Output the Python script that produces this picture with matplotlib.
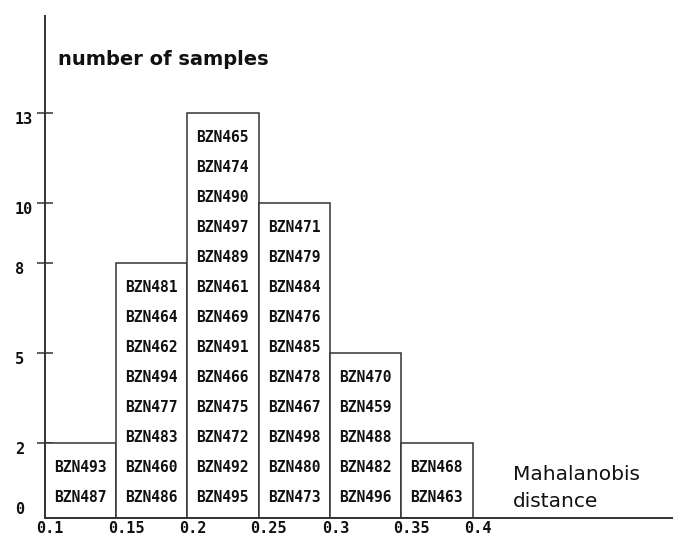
import matplotlib
matplotlib.use("Agg")
import matplotlib.pyplot as plt
from matplotlib.transforms import offset_copy

# Klassengrenzen der Mahalanobis-Distanz und Proben je Klasse (von unten nach oben)
bin_edges = [0.1, 0.15, 0.2, 0.25, 0.3, 0.35, 0.4]
edge_labels = ["0.1", "0.15", "0.2", "0.25", "0.3", "0.35", "0.4"]
samples = [
    ["BZN487", "BZN493"],
    ["BZN486", "BZN460", "BZN483", "BZN477", "BZN494", "BZN462", "BZN464", "BZN481"],
    ["BZN495", "BZN492", "BZN472", "BZN475", "BZN466", "BZN491", "BZN469", "BZN461",
     "BZN489", "BZN497", "BZN490", "BZN474", "BZN465"],
    ["BZN473", "BZN480", "BZN498", "BZN467", "BZN478", "BZN485", "BZN476", "BZN484",
     "BZN479", "BZN471"],
    ["BZN496", "BZN482", "BZN488", "BZN459", "BZN470"],
    ["BZN463", "BZN468"],
]
counts = [len(s) for s in samples]
ytick_values = [0, 2, 5, 8, 10, 13]

pad = 0.5  # Luft über der obersten Beschriftung
line_col = "#333333"
mono = "DejaVu Sans Mono"

fig = plt.figure(figsize=(6.73, 5.36), dpi=100)
ax = fig.add_axes([44.5 / 673, 18 / 536, (673 - 44.5) / 673, 502 / 536])
ax.set_xlim(0.1, 0.1 + (673 - 44.5) / 1426.7)
ax.set_ylim(0, 502 / 30)

width = bin_edges[1] - bin_edges[0]
ax.bar(bin_edges[:-1], [c + pad for c in counts], width=width, align="edge",
       facecolor="white", edgecolor=line_col, linewidth=1.1, zorder=2)

# Probennamen in die Balken schreiben
for left, names in zip(bin_edges[:-1], samples):
    for i, name in enumerate(names):
        ax.text(left + width / 2, i + 0.67, name, ha="center", va="center",
                fontsize=10.5, fontweight="bold", family=mono, color="#111111",
                zorder=3)

for side in ["top", "right"]:
    ax.spines[side].set_visible(False)
for side in ["left", "bottom"]:
    ax.spines[side].set_color(line_col)
    ax.spines[side].set_linewidth(1.4)
    ax.spines[side].set_zorder(4)

ax.set_xticks([])
ax.set_yticks([v + pad for v in ytick_values])
ax.tick_params(axis="y", direction="inout", length=11, width=1.1,
               color=line_col, labelleft=False)
# kein Strich bei 0
ax.yaxis.get_major_ticks()[0].tick1line.set_visible(False)

ytrans = offset_copy(ax.get_yaxis_transform(), fig=fig, x=-29.5, y=-6, units="dots")
for v in ytick_values:
    ax.text(0, v + pad, str(v), transform=ytrans, ha="left", va="center",
            fontsize=11, fontweight="bold", family=mono, color="#111111")

xtrans = offset_copy(ax.get_xaxis_transform(), fig=fig, x=-8, y=-3, units="dots")
for e, lab in zip(bin_edges, edge_labels):
    ax.text(e, 0, lab, transform=xtrans, ha="left", va="top",
            fontsize=11, fontweight="bold", family=mono, color="#111111")

fig.text(58 / 673, 1 - 65 / 536, "number of samples", ha="left", va="baseline",
         fontsize=14, fontweight="bold", color="#111111")
fig.text(513 / 673, 1 - 480 / 536, "Mahalanobis", ha="left", va="baseline",
         fontsize=14.5, color="#111111")
fig.text(513 / 673, 1 - 507 / 536, "distance", ha="left", va="baseline",
         fontsize=14.5, color="#111111")

fig.savefig("out.png", dpi=100)
